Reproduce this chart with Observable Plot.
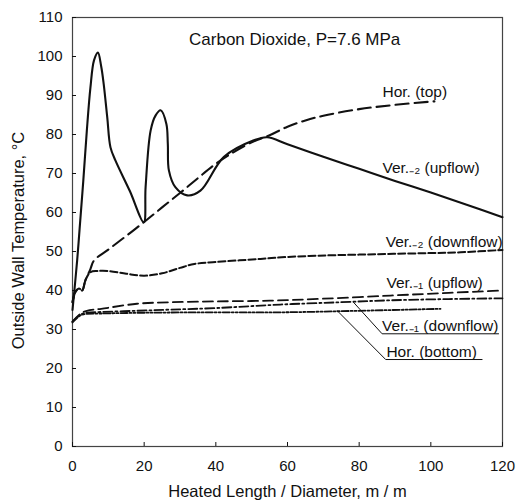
<!DOCTYPE html>
<html><head><meta charset="utf-8">
<script src="https://cdn.jsdelivr.net/npm/d3@7"></script>
<script src="https://cdn.jsdelivr.net/npm/@observablehq/plot@0.6"></script>
<style>
body{margin:0;background:#fff;}
svg{font-family:"Liberation Sans",Arial,Helvetica,sans-serif;}
</style>
</head><body><div id="chart"></div>
<script>
const xTicks = [0, 20, 40, 60, 80, 100, 120];
const yTicks = [0, 10, 20, 30, 40, 50, 60, 70, 80, 90, 100, 110];

// [L/D, temperature °C]
const ver2Up = [[0,35],[1.3,47.7],[2,56],[3,68],[4,81],[5,92],[6,99],[7.1,101],[8,97.5],[8.7,93],[9.7,84.4],[10.6,76.7],[12,73.3],[16,65.5],[19.9,57.5],
  [20.4,66.5],[21.8,81],[23.2,84.9],[24.6,86.2],[26.2,82.7],[26.6,77.6],[26.9,70.8],[28.7,66.5],[32,64.4],[35.7,65.6],[42.2,74.2],[50.6,78.5],[54.3,79.3],
  [60,77.5],[70,74.3],[80,71.2],[90,68.1],[100,65.1],[110,62],[120,58.8]];
const horTop = [[0,37],[0.8,39.6],[1.8,40.5],[2.7,40],[3.6,42.6],[5,45.5],[6,47.7],[10,50.5],[15,54],[19.9,57.5],[25,61.3],[30,65],[35,68.8],[40,72.5],
  [45,75.5],[50,78],[55,79.8],[60,82],[65,83.6],[70,84.8],[80,86.5],[90,87.6],[101,88.5]];
const ver2Down = [[0,37],[0.8,39.6],[1.8,40.5],[2.7,40],[3.6,42.6],[5,44.7],[7,45],[10,45],[15,44.3],[20,43.8],[25,44.4],[30,45.8],[34,46.8],[40,47.3],
  [52.5,48.1],[60,48.6],[71,49],[80,49.2],[89.6,49.4],[100,49.6],[108.3,49.8],[120,50.4]];
const ver1Up = [[0,32],[2.2,34],[4,34.8],[8,35.3],[18,36.6],[27.4,37],[40,37.2],[55,37.4],[70,37.9],[88.7,38.7],[105,39.4],[120,40]];
const ver1Down = [[0,32],[2.2,33.8],[4,34.3],[8,34.5],[18,34.8],[27.4,35.1],[40,35.5],[58,36.4],[75,37],[89,37.5],[105,37.8],[120,38]];
const horBottom = [[0,31.8],[2.2,33.6],[4,34],[8,34.1],[20,34.3],[40,34.4],[58,34.4],[80,34.8],[102.7,35.3]];

const leaderVer1Down = [[78.4,37],[86.4,28.9],[118.9,28.9]];
const leaderHorBottom = [[73.9,34.8],[87.4,22.3],[114.3,22.3]];

const labelTexts = ["Hor. (top)", "Ver.\u208B\u2082 (upflow)", "Ver.\u208B\u2082 (downflow)", "Ver.\u208B\u2081 (upflow)", "Ver.\u208B\u2081 (downflow)", "Hor. (bottom)"];
const labelX = [86.5, 86.5, 87.4, 87.6, 86.4, 87.6];
const labelY = [91, 71.5, 52.3, 41.8, 30.8, 24.1];
const labels = labelTexts.map((t, i) => ({text: t, x: labelX[i], y: labelY[i]}));

const titleText = ["Carbon Dioxide, P=7.6 MPa"];
const titleX = 62, titleY = 104.4;
const xTitle = "Heated Length / Diameter, m / m";
const yTitle = "Outside Wall Temperature, \u00B0C";

const ink = "#111";
const series = [
  {data: ver2Up, dash: null, w: 2.1},
  {data: horTop, dash: "13,6", w: 2.1},
  {data: ver2Down, dash: "7,3", w: 2},
  {data: ver1Up, dash: "10,5", w: 1.8},
  {data: ver1Down, dash: "9,3,2,3", w: 1.8},
  {data: horBottom, dash: "7,2,2,2,2,2", w: 1.8}
];

const chart = Plot.plot({
  width: 517,
  height: 504,
  marginLeft: 72,
  marginRight: 15,
  marginTop: 17,
  marginBottom: 58,
  style: {fontFamily: '"Liberation Sans", Arial, Helvetica, sans-serif', fontSize: "15px", background: "#fff", color: ink},
  x: {domain: [0, 120]},
  y: {domain: [0, 110]},
  marks: [
    Plot.frame({stroke: "#444", strokeWidth: 1.2}),
    Plot.axisX({ticks: xTicks, tickSize: -4, tickPadding: 18, fontSize: 15, label: null}),
    Plot.axisX({ticks: [], label: xTitle, labelArrow: "none", labelAnchor: "center", labelOffset: 50, fontSize: 16.5}),
    Plot.axisY({ticks: yTicks, tickSize: -4, tickPadding: 14, fontSize: 15, label: null}),
    Plot.text([yTitle], {frameAnchor: "left", text: d => d, rotate: -90, dx: -54, dy: 8.5, fontSize: 16.5, fill: ink, lineAnchor: "middle", textAnchor: "middle"}),
    ...series.map(s => Plot.line(s.data, {x: d => d[0], y: d => d[1], stroke: ink, strokeWidth: s.w, strokeDasharray: s.dash, curve: "catmull-rom"})),
    Plot.line(leaderVer1Down, {x: d => d[0], y: d => d[1], stroke: ink, strokeWidth: 1}),
    Plot.line(leaderHorBottom, {x: d => d[0], y: d => d[1], stroke: ink, strokeWidth: 1}),
    Plot.text(labels, {x: "x", y: "y", text: "text", textAnchor: "start", fontSize: 15.5, fill: ink}),
    Plot.text(titleText, {x: () => titleX, y: () => titleY, text: d => d, textAnchor: "middle", fontSize: 17, fill: ink})
  ]
});
document.getElementById("chart").appendChild(chart);
</script>
</body></html>
